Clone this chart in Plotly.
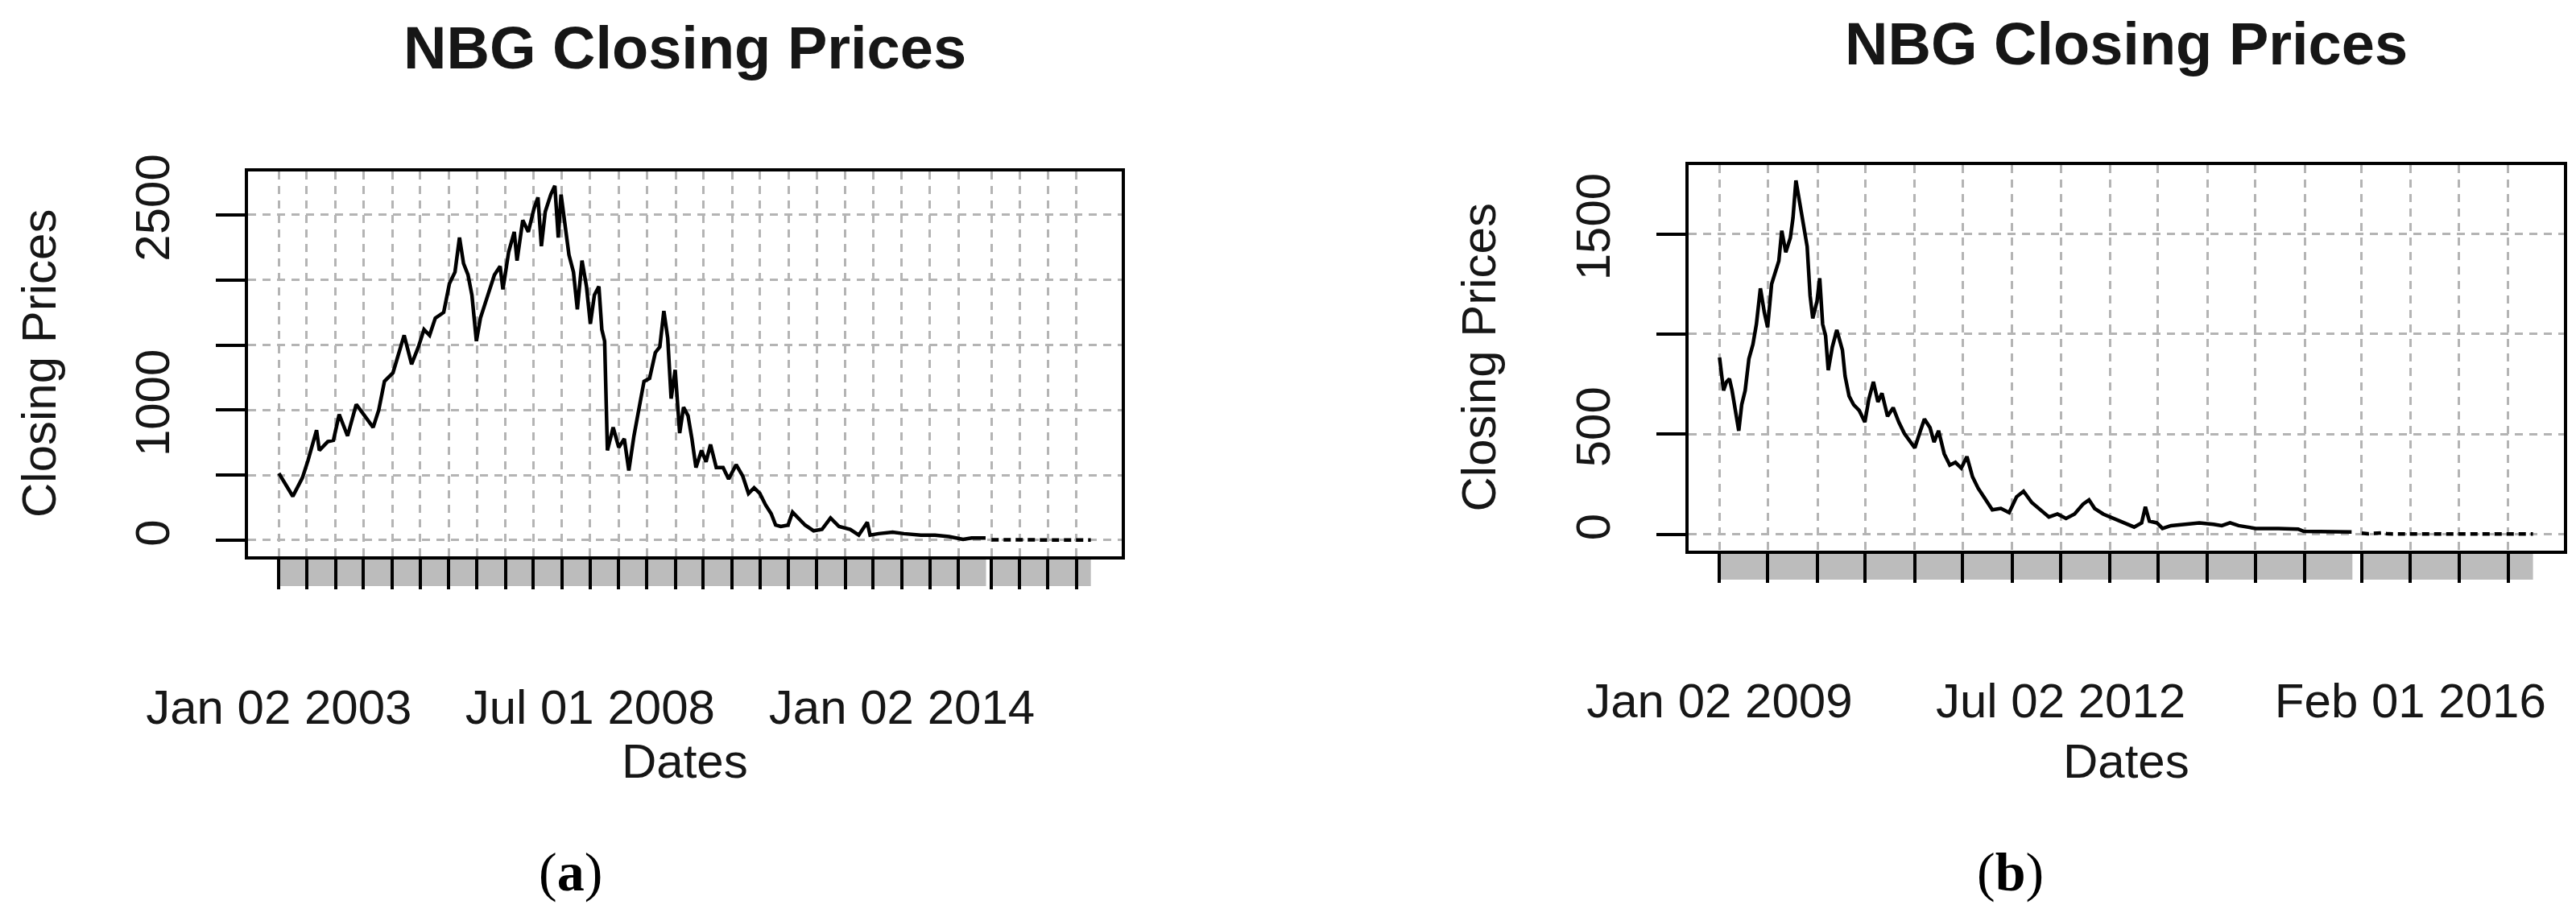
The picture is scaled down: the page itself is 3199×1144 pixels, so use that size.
import plotly.graph_objects as go
import pandas as pd

# ---------------- data: panel (a) ----------------
a_dates = [
    "2003-01-02", "2003-04-02", "2003-06-03", "2003-07-09", "2003-09-02", "2003-09-20", "2003-11-13", "2003-12-20",
    "2004-01-26", "2004-03-20", "2004-05-15", "2004-07-08", "2004-09-01", "2004-10-07", "2004-11-13",
    "2005-01-07", "2005-02-12", "2005-03-20", "2005-05-07", "2005-06-20", "2005-07-26", "2005-08-31", "2005-10-07", "2005-11-30",
    "2006-01-06", "2006-02-11", "2006-03-12", "2006-04-07", "2006-05-06", "2006-05-31", "2006-06-29", "2006-07-25",
    "2006-08-30", "2006-10-23", "2006-11-29", "2006-12-17",
    "2007-01-23", "2007-02-28", "2007-03-18", "2007-04-24", "2007-05-30", "2007-07-05", "2007-07-31", "2007-08-22",
    "2007-09-16", "2007-10-22", "2007-11-17", "2007-12-09", "2007-12-27",
    "2008-01-21", "2008-02-16", "2008-03-16", "2008-04-10", "2008-05-10", "2008-06-08", "2008-07-03", "2008-07-29",
    "2008-08-27", "2008-09-15", "2008-10-03", "2008-10-21", "2008-11-27",
    "2009-01-02", "2009-02-07", "2009-03-08", "2009-04-10", "2009-05-09", "2009-06-14", "2009-07-20", "2009-08-26",
    "2009-09-24", "2009-10-20", "2009-11-14", "2009-12-06",
    "2010-01-01", "2010-01-30", "2010-02-24", "2010-03-25", "2010-04-19", "2010-05-15", "2010-06-20", "2010-07-19",
    "2010-08-17", "2010-09-23", "2010-11-06", "2010-12-12",
    "2011-01-29", "2011-03-13", "2011-04-19", "2011-05-25", "2011-07-01", "2011-08-07", "2011-09-12", "2011-10-11",
    "2011-11-13", "2011-12-30",
    "2012-01-28", "2012-03-12", "2012-04-18", "2012-06-12", "2012-08-05", "2012-09-29", "2012-11-23",
    "2013-02-03", "2013-03-30", "2013-05-24", "2013-06-11", "2013-08-05", "2013-11-03",
    "2014-01-15", "2014-05-05", "2014-08-04", "2014-11-02",
    "2015-02-01", "2015-03-28", "2015-06-26",
]
a_close = [
    514, 337, 480, 613, 845, 690, 757, 768,
    967, 801, 1044, 956, 867, 1000, 1221,
    1287, 1420, 1575, 1353, 1486, 1619, 1575, 1707, 1751,
    1972, 2061, 2326, 2127, 2039, 1884, 1530, 1707,
    1840, 2039, 2105, 1928,
    2215, 2370, 2149, 2459, 2370, 2547, 2635, 2260,
    2525, 2657, 2724, 2326, 2657,
    2414, 2193, 2061, 1774, 2149, 1950, 1663, 1884,
    1950, 1619, 1530, 690, 867,
    713, 779, 536, 801, 1000, 1221, 1243, 1442,
    1486, 1762, 1553, 1088,
    1309, 823, 1022, 956, 779, 558, 690, 602,
    735, 558, 558, 470,
    580, 492, 359, 403, 359, 271, 204, 116,
    105, 116,
    215, 160, 116, 72, 83, 171, 105,
    83, 39, 138, 39, 50, 61,
    50, 39, 39, 28,
    6, 17, 17,
]
a_tail_dates = ["2015-08-03", "2015-10-15", "2016-02-01", "2016-06-01", "2016-10-01", "2017-02-01", "2017-05-05"]
a_tail_close = [3, 2, 1, 1, 1, 1, 1]
a_tick_dates = [
    "2003-01-02", "2003-07-01", "2004-01-02", "2004-07-01", "2005-01-03", "2005-07-01", "2006-01-02", "2006-07-03",
    "2007-01-02", "2007-07-02", "2008-01-02", "2008-07-01", "2009-01-02", "2009-07-01", "2010-01-04", "2010-07-01",
    "2011-01-03", "2011-07-01", "2012-01-02", "2012-07-02", "2013-01-02", "2013-07-01", "2014-01-02", "2014-07-01",
    "2015-01-02", "2015-08-03", "2016-02-01", "2016-08-01", "2017-02-01",
]
a_tick_labels = {"2003-01-02": "Jan 02 2003", "2008-07-01": "Jul 01 2008", "2014-01-02": "Jan 02 2014"}
a_yticks = [0, 500, 1000, 1500, 2000, 2500]
a_ytick_labels = ["0", "", "1000", "", "", "2500"]

# ---------------- data: panel (b) ----------------
b_dates = [
    "2009-01-02", "2009-01-17", "2009-01-28", "2009-02-08", "2009-02-18", "2009-02-28", "2009-03-15", "2009-03-26",
    "2009-04-08", "2009-04-22", "2009-05-07", "2009-05-20", "2009-06-04", "2009-06-19", "2009-07-01", "2009-07-16",
    "2009-07-31", "2009-08-12", "2009-08-23", "2009-09-07", "2009-09-24", "2009-10-04", "2009-10-15", "2009-10-30",
    "2009-11-13", "2009-11-26", "2009-12-07", "2009-12-17",
    "2010-01-02", "2010-01-12", "2010-01-23", "2010-02-03", "2010-02-13", "2010-02-28", "2010-03-17", "2010-04-07",
    "2010-04-17", "2010-05-02", "2010-05-19", "2010-06-09", "2010-06-30", "2010-07-15", "2010-08-01", "2010-08-18",
    "2010-09-02", "2010-09-23", "2010-10-14", "2010-11-04", "2010-11-25", "2010-12-17",
    "2011-01-03", "2011-01-24", "2011-02-08", "2011-03-01", "2011-03-16", "2011-04-02", "2011-04-23", "2011-05-14",
    "2011-06-04", "2011-06-26", "2011-07-17", "2011-08-07", "2011-08-28", "2011-09-18", "2011-10-20", "2011-11-21",
    "2011-12-22",
    "2012-01-19", "2012-02-14", "2012-03-16", "2012-04-17", "2012-05-19", "2012-06-20", "2012-07-22", "2012-08-23",
    "2012-09-24", "2012-10-16", "2012-11-06", "2012-12-08",
    "2013-01-19", "2013-03-02", "2013-04-03", "2013-05-01", "2013-05-15", "2013-05-30", "2013-06-27", "2013-07-18",
    "2013-08-19", "2013-10-11", "2013-12-03",
    "2014-01-25", "2014-02-25", "2014-03-28", "2014-04-29", "2014-05-31", "2014-07-02", "2014-09-25", "2014-12-08",
    "2014-12-29", "2015-04-25", "2015-06-26",
]
b_close = [
    883, 718, 761, 776, 718, 647, 517, 647,
    718, 876, 948, 1049, 1228, 1106, 1034, 1250,
    1307, 1365, 1516, 1408, 1480, 1580, 1767, 1652,
    1552, 1437, 1192, 1078,
    1164, 1279, 1049, 991, 819, 934, 1020, 920,
    790, 690, 647, 618, 560, 675, 761, 661,
    704, 589, 632, 560, 503, 460,
    431, 517, 575, 532, 460, 517, 402, 345,
    359, 330, 388, 287, 230, 187, 122, 129,
    108,
    187, 215, 158, 122, 86, 101, 79, 101,
    151, 172, 129, 101,
    79, 57, 36, 57, 137, 65, 57, 29,
    43, 50, 57,
    50, 43, 57, 43, 36, 29, 29, 26,
    14, 14, 11,
]
b_tail_dates = ["2015-08-03", "2015-08-25", "2015-10-15", "2015-11-10", "2016-02-01", "2016-08-01", "2017-02-01", "2017-05-05"]
b_tail_close = [5, 2, 7, 2, 1, 1, 1, 1]
b_tick_dates = a_tick_dates[12:]
b_tick_labels = {"2009-01-02": "Jan 02 2009", "2012-07-02": "Jul 02 2012", "2016-02-01": "Feb 01 2016"}
b_yticks = [0, 500, 1000, 1500]
b_ytick_labels = ["0", "500", "", "1500"]

closure = ("2015-06-29", "2015-07-31")  # no trading days (exchange closed)

# ---------------- layout geometry ----------------
W, H = 3199, 1144
FONT = "Liberation Sans"
TXT = "#161616"
GRID = "#b4b4b4"

def xd(px):
    return px / W

def yd(px):
    return 1 - px / H

panels = [
    dict(dates=a_dates, close=a_close, tdates=a_tail_dates, tclose=a_tail_close, ticks=a_tick_dates,
         tlabels=a_tick_labels, yticks=a_yticks, ylabels=a_ytick_labels, box=(300, 205, 1385, 683),
         yrange=[-124, 2834], title_y=51, ytitle_x=40, cap="(<b>a</b>)", cap_x=700, gray_h=37),
    dict(dates=b_dates, close=b_close, tdates=b_tail_dates, tclose=b_tail_close, ticks=b_tick_dates,
         tlabels=b_tick_labels, yticks=b_yticks, ylabels=b_ytick_labels, box=(2089, 197, 3176, 676),
         yrange=[-82, 1844], title_y=46, ytitle_x=1828, cap="(<b>b</b>)", cap_x=2488, gray_h=36),
]

fig = go.Figure()
annotations = []
shapes = []
layout_axes = {}

for i, p in enumerate(panels, start=1):
    xa = "x" if i == 1 else f"x{i}"
    ya = "y" if i == 1 else f"y{i}"
    x0, y0, x1, y1 = p["box"]

    fig.add_trace(go.Scatter(x=p["dates"], y=p["close"], mode="lines", xaxis=xa, yaxis=ya,
                             line=dict(color="black", width=4.5), showlegend=False))
    fig.add_trace(go.Scatter(x=p["tdates"], y=p["tclose"], mode="lines", xaxis=xa, yaxis=ya,
                             line=dict(color="black", width=4.5, dash="9px,6px"), showlegend=False))

    start = pd.Timestamp(p["dates"][0])
    end = pd.Timestamp(p["tdates"][-1])
    span = end - start
    xr = [start - span * 0.038, end + span * 0.038]

    ticktext = [p["tlabels"].get(d, "") for d in p["ticks"]]
    layout_axes[("xaxis" if i == 1 else f"xaxis{i}")] = dict(
        type="date", domain=[xd(x0), xd(x1)], range=xr, anchor=ya, automargin=False,
        tickmode="array", tickvals=p["ticks"], ticktext=ticktext,
        ticks="outside", ticklen=p["gray_h"], tickwidth=4, tickcolor="black",
        ticklabelstandoff=95,
        showgrid=True, gridcolor=GRID, gridwidth=2.5, griddash="10px,8px",
        showline=True, linecolor="black", linewidth=4, mirror=True,
        zeroline=False, tickfont=dict(family=FONT, size=60, color=TXT),
    )
    layout_axes[("yaxis" if i == 1 else f"yaxis{i}")] = dict(
        domain=[yd(y1), yd(y0)], range=p["yrange"], anchor=xa, automargin=False,
        tickmode="array", tickvals=p["yticks"], ticktext=p["ylabels"], tickangle=-90,
        ticks="outside", ticklen=36, tickwidth=4, tickcolor="black",
        ticklabelstandoff=34,
        showgrid=True, gridcolor=GRID, gridwidth=2.5, griddash="10px,8px",
        showline=True, linecolor="black", linewidth=4, mirror=True,
        zeroline=False, tickfont=dict(family=FONT, size=60, color=TXT),
    )

    # gray rug of observation ticks below the x-axis (gap where no trading took place)
    for g0, g1 in [(p["dates"][0], closure[0]), (closure[1], p["tdates"][-1])]:
        shapes.append(dict(type="rect", xref=xa, yref="paper", x0=g0, x1=g1,
                           y0=yd(y1 + p["gray_h"]), y1=yd(y1), fillcolor="#bcbcbc",
                           line=dict(width=0), layer="below"))

    cx = (x0 + x1) / 2
    annotations.append(dict(text="<b>NBG Closing Prices</b>", xref="paper", yref="paper",
                            x=xd(cx), y=yd(p["title_y"]), xanchor="center", yanchor="middle",
                            showarrow=False, font=dict(family=FONT, size=74, color=TXT)))
    annotations.append(dict(text="Dates", xref="paper", yref="paper",
                            x=xd(cx), y=yd(937), xanchor="center", yanchor="middle",
                            showarrow=False, font=dict(family=FONT, size=60, color=TXT)))
    annotations.append(dict(text="Closing Prices", xref="paper", yref="paper", textangle=-90,
                            x=xd(p["ytitle_x"]), y=yd((y0 + y1) / 2), xanchor="center", yanchor="middle",
                            showarrow=False, font=dict(family=FONT, size=60, color=TXT)))
    annotations.append(dict(text=p["cap"], xref="paper", yref="paper",
                            x=xd(p["cap_x"]), y=yd(1075), xanchor="center", yanchor="middle",
                            showarrow=False, font=dict(family="Liberation Serif", size=68, color="black")))

fig.update_layout(
    width=W, height=H, margin=dict(l=0, r=0, t=0, b=0, autoexpand=False),
    paper_bgcolor="white", plot_bgcolor="white",
    annotations=annotations, shapes=shapes, showlegend=False,
    **layout_axes,
)

fig.write_html("out.html")
